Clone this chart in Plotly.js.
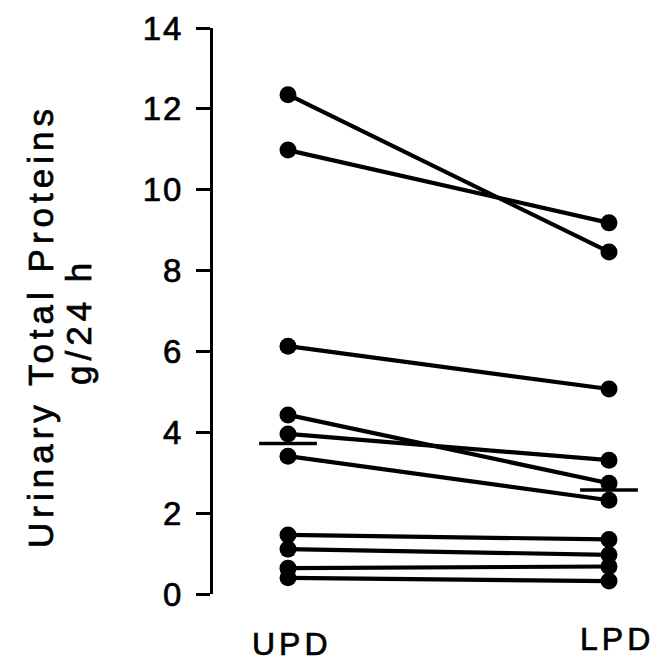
<!DOCTYPE html>
<html>
<head>
<meta charset="utf-8">
<script src="https://cdn.plot.ly/plotly-3.0.1.min.js"></script>
<style>
  html, body { margin: 0; padding: 0; background: #fff; }
  #chart { width: 665px; height: 664px; }
  .main-svg .annotation text { letter-spacing: 4px; stroke: #000; stroke-width: 0.7px; }
  .main-svg .ytick text { letter-spacing: 2px; stroke: #000; stroke-width: 0.7px; }
</style>
</head>
<body>
<div id="chart"></div>
<script>
// ---- data ----
const categories = ['UPD', 'LPD'];
const updValues = [12.35, 10.98, 6.13, 4.43, 3.96, 3.41, 1.46, 1.11, 0.64, 0.40];
const lpdValues = [8.46, 9.18, 5.07, 2.74, 3.31, 2.32, 1.35, 0.97, 0.68, 0.32];
const groupMarks = [3.72, 2.57];
const yTickVals = [0, 2, 4, 6, 8, 10, 12, 14];
const yTickText = ['0', '2', '4', '6', '8', '10', '12', '14'];
const yTitleLines = ['Urinary Total Proteins', 'g/24 h'];

// ---- styling ----
const FONT = 'Liberation Sans, Arial, Helvetica, sans-serif';
const INK = '#000';
const markHalf = 0.09;

const W = 665, H = 664, L = 213, R = 10, T = 28, B = 70;
const pw = W - L - R;
function pxToPaperX(px) { return (px - L) / pw; }
function pxToPaperY(py) { return (H - B - py) / (H - T - B); }

const traces = [];
for (let i = 0; i < updValues.length; i++) {
  traces.push({
    type: 'scatter',
    mode: 'lines+markers',
    x: [0, 1],
    y: [updValues[i], lpdValues[i]],
    line: { color: INK, width: 4.2 },
    marker: { color: INK, size: 17 },
    cliponaxis: false,
    hoverinfo: 'skip',
    showlegend: false
  });
}
groupMarks.forEach((v, i) => {
  traces.push({
    type: 'scatter',
    mode: 'lines',
    x: [i - markHalf, i + markHalf],
    y: [v, v],
    line: { color: INK, width: 3.5 },
    cliponaxis: false,
    hoverinfo: 'skip',
    showlegend: false
  });
});

const annotations = [];
categories.forEach((c, i) => {
  annotations.push({
    x: i, xref: 'x', y: 0, yref: 'paper',
    yanchor: 'top', xanchor: 'center',
    yshift: i === 0 ? -30 : -25,
    xshift: i === 0 ? 4 : 8,
    text: c, showarrow: false,
    font: { family: FONT, size: 32, color: INK }
  });
});
annotations.push({
  x: pxToPaperX(40), xref: 'paper', y: pxToPaperY(326), yref: 'paper',
  text: '<span style="letter-spacing:5px">' + yTitleLines[0] + '</span>',
  showarrow: false, textangle: -90,
  xanchor: 'center', yanchor: 'middle',
  font: { family: FONT, size: 35, color: INK }
});
annotations.push({
  x: pxToPaperX(78), xref: 'paper', y: pxToPaperY(322), yref: 'paper',
  text: '<span style="letter-spacing:5px">' + yTitleLines[1] + '</span>',
  showarrow: false, textangle: -90,
  xanchor: 'center', yanchor: 'middle',
  font: { family: FONT, size: 35, color: INK }
});

const layout = {
  width: W, height: H,
  margin: { l: L, r: R, t: T, b: B, pad: 0 },
  paper_bgcolor: '#fff', plot_bgcolor: '#fff',
  showlegend: false,
  xaxis: {
    range: [-0.2336, 1.1433],
    visible: false
  },
  yaxis: {
    range: [0, 14],
    showline: true, linecolor: INK, linewidth: 3,
    ticks: 'outside', ticklen: 14, tickwidth: 3, tickcolor: INK,
    tickvals: yTickVals, ticktext: yTickText,
    tickfont: { family: FONT, size: 33, color: INK },
    ticklabelstandoff: 6,
    showgrid: false, zeroline: false
  },
  annotations: annotations
};

Plotly.newPlot('chart', traces, layout, { displayModeBar: false, staticPlot: true });
</script>
</body>
</html>
